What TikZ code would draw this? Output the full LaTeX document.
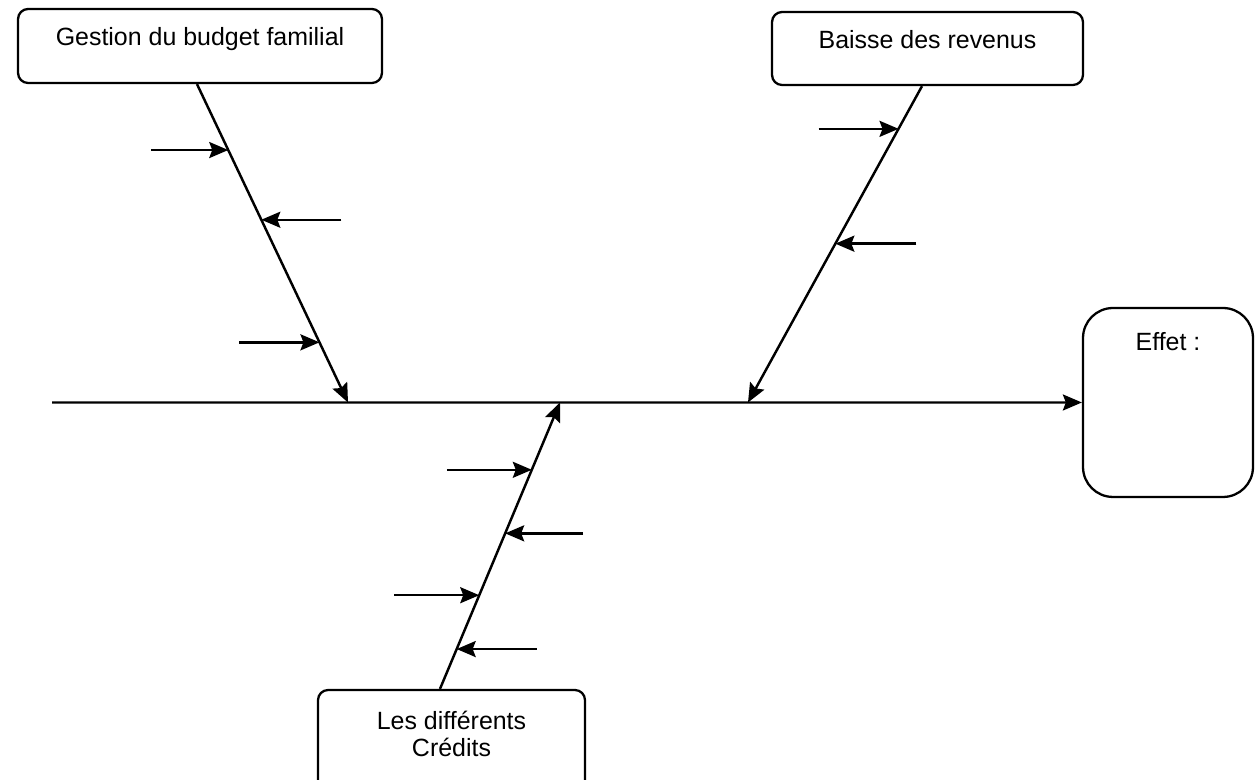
\documentclass[tikz,border=0pt]{standalone}
\usepackage{fontspec}
\setmainfont{Liberation Sans}
\usetikzlibrary{arrows.meta,calc}
\newcommand{\boxfont}{\fontsize{14.2}{15.5}\selectfont}

\begin{document}
\begin{tikzpicture}[x=0.02cm,y=-0.02cm,
        box/.style={draw,line width=1.3pt,rounded corners=0.2cm,
           inner xsep=0pt,inner ysep=0pt,anchor=base,font=\boxfont},
        bone/.style={draw,line width=1.4pt,
           -{Stealth[length=3.8mm,width=3.2mm,inset=0.6mm]}},
    ]
    \useasboundingbox (0,0) rectangle (1255,780);
    \node[box,minimum width=7.28cm,text height=0.74cm,text depth=0.74cm]
        (gestion) at (200,46) {Gestion du budget familial};
    \node[box,minimum width=6.22cm,text height=0.74cm,text depth=0.72cm]
        (baisse) at (927.5,49) {Baisse des revenus};
    \node[box,minimum width=5.34cm,text height=0.78cm,text depth=1.5cm]
        (credits) at (451.5,729)
        {\begin{tabular}[t]{@{}c@{}}Les différents\\Crédits\end{tabular}};
    \node[box,rounded corners=0.6cm,minimum width=3.4cm,
        text height=0.86cm,text depth=2.92cm]
        (effet) at (1168,351) {Effet :};
    \coordinate (tail) at (52,402.5);
    \coordinate (j1) at (348,402.5);
    \coordinate (j2) at (748,402.5);
    \coordinate (j3) at (560,402.5);
    % spine and bones
    \draw[bone] (tail) -- (effet.west);
    \draw[bone] ($(gestion.south)+(-3,0)$)
        -- coordinate[pos=.207] (g1) coordinate[pos=.426] (g2)
           coordinate[pos=.811] (g3) (j1);
    \draw[bone] ($(baisse.south)+(-5.5,0)$)
        -- coordinate[pos=.135] (r1) coordinate[pos=.498] (r2) (j2);
    \draw[bone] ($(credits.north)+(-11.5,0)$)
        -- coordinate[pos=.765] (c1) coordinate[pos=.543] (c2)
           coordinate[pos=.327] (c3) coordinate[pos=.139] (c4) (j3);
    % causes
    \path
        (g1) +(-77,0) edge[bone] (g1)
        (g2) +(80,0) edge[bone] (g2)
        (g3) +(-80,0) edge[bone] (g3)
        (r1) +(-80,0) edge[bone] (r1)
        (r2) +(81,0) edge[bone] (r2)
        (c1) +(-85,0) edge[bone] (c1)
        (c2) +(78,0) edge[bone] (c2)
        (c3) +(-85,0) edge[bone] (c3)
        (c4) +(80,0) edge[bone] (c4)
        ;
\end{tikzpicture}
\end{document}
